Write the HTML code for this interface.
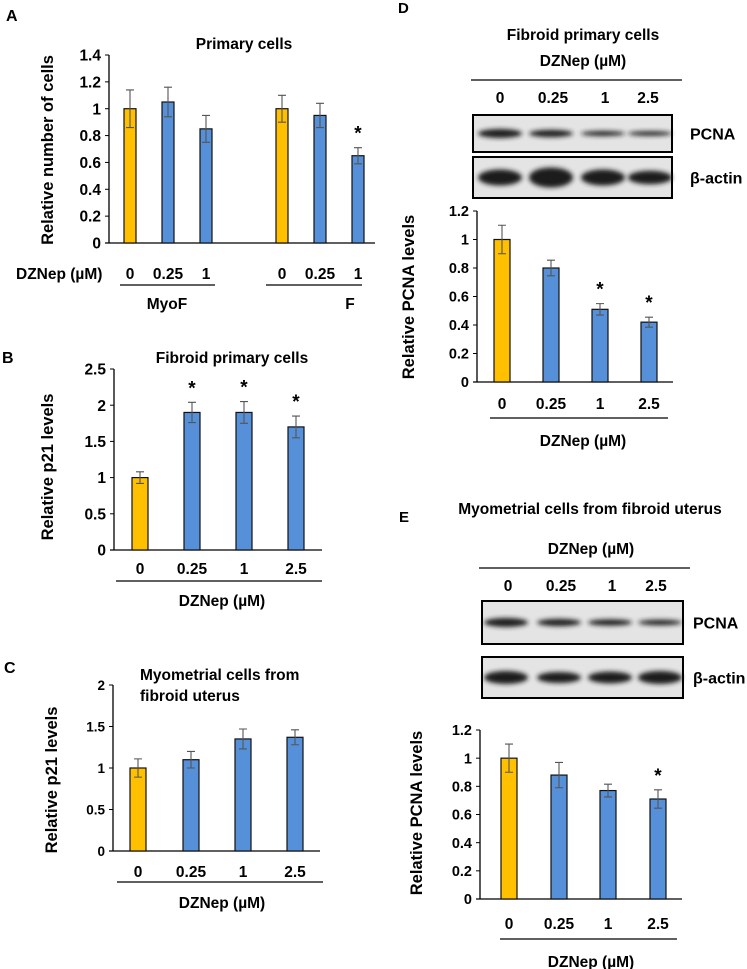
<!DOCTYPE html>
<html><head><meta charset="utf-8">
<style>
html,body{margin:0;padding:0;background:#fff;}
svg{display:block;font-family:"Liberation Sans",Arial,sans-serif;font-weight:bold;}
</style></head>
<body>
<svg id="fig" width="747" height="969" viewBox="0 0 747 969" xmlns="http://www.w3.org/2000/svg">
<defs>
<filter id="blur" x="-20%" y="-100%" width="140%" height="300%"><feGaussianBlur stdDeviation="2.4"/></filter>
</defs>
<g id="static" font-size="15.5">
<text x="6" y="21" font-size="16">A</text>
<text x="244" y="49" text-anchor="middle">Primary cells</text>
<text x="16" y="279">DZNep (µM)</text>
<line x1="120" y1="285" x2="215" y2="285" stroke="#000" stroke-width="1.3"/>
<line x1="266" y1="285" x2="362" y2="285" stroke="#000" stroke-width="1.3"/>
<text x="167" y="309" text-anchor="middle">MyoF</text>
<text x="350" y="309" text-anchor="middle">F</text>
<text x="2" y="363" font-size="16">B</text>
<text x="232" y="363" text-anchor="middle">Fibroid primary cells</text>
<line x1="116" y1="581" x2="322" y2="581" stroke="#000" stroke-width="1.3"/>
<text x="222" y="606" text-anchor="middle">DZNep (µM)</text>
<text x="4" y="673" font-size="16">C</text>
<text x="140" y="680">Myometrial cells from</text>
<text x="140" y="701">fibroid uterus</text>
<line x1="117" y1="882" x2="323" y2="882" stroke="#000" stroke-width="1.3"/>
<text x="222" y="908" text-anchor="middle">DZNep (µM)</text>
<text x="398" y="13" font-size="15">D</text>
<text x="583" y="40" text-anchor="middle">Fibroid primary cells</text>
<text x="583" y="66" text-anchor="middle">DZNep (µM)</text>
<line x1="471" y1="80" x2="682" y2="80" stroke="#000" stroke-width="1.3"/>
<line x1="490" y1="418" x2="668" y2="418" stroke="#000" stroke-width="1.3"/>
<text x="583" y="446" text-anchor="middle">DZNep (µM)</text>
<text x="399" y="522" font-size="15">E</text>
<text x="590" y="514" text-anchor="middle">Myometrial cells from fibroid uterus</text>
<text x="591" y="554" text-anchor="middle">DZNep (µM)</text>
<line x1="479" y1="568" x2="690" y2="568" stroke="#000" stroke-width="1.3"/>
<line x1="500" y1="939" x2="677" y2="939" stroke="#000" stroke-width="1.3"/>
<text x="591" y="967" text-anchor="middle">DZNep (µM)</text>
</g>
<g id="dyn"></g>
</svg>
<script>
// Panel A data
const aCategories = ["0","0.25","1","0","0.25","1"];
const aValues = [1.0, 1.05, 0.85, 1.0, 0.95, 0.65];
const aErrors = [0.14, 0.11, 0.10, 0.10, 0.09, 0.06];
const aStars = [false,false,false,false,false,true];
const aTicks = [0,0.2,0.4,0.6,0.8,1,1.2,1.4];
// Panel B data
const bCategories = ["0","0.25","1","2.5"];
const bValues = [1.0, 1.9, 1.9, 1.7];
const bErrors = [0.08, 0.14, 0.15, 0.15];
const bStars = [false,true,true,true];
const bTicks = [0,0.5,1,1.5,2,2.5];
// Panel C data
const cCategories = ["0","0.25","1","2.5"];
const cValues = [1.0, 1.1, 1.35, 1.37];
const cErrors = [0.11, 0.10, 0.12, 0.09];
const cStars = [false,false,false,false];
const cTicks = [0,0.5,1,1.5,2];
// Panel D data
const dCategories = ["0","0.25","1","2.5"];
const dValues = [1.0, 0.80, 0.51, 0.42];
const dErrors = [0.10, 0.055, 0.04, 0.035];
const dStars = [false,false,true,true];
const dTicks = [0,0.2,0.4,0.6,0.8,1,1.2];
// Panel E data
const eCategories = ["0","0.25","1","2.5"];
const eValues = [1.0, 0.88, 0.77, 0.71];
const eErrors = [0.10, 0.09, 0.045, 0.065];
const eStars = [false,false,false,true];
const eTicks = [0,0.2,0.4,0.6,0.8,1,1.2];
// Blot band intensities (relative thickness)
const dPcnaBands = [1.0, 0.8, 0.55, 0.5];
const dActinBands = [1.0, 1.25, 1.0, 0.85];
const ePcnaBands = [1.0, 0.8, 0.7, 0.6];
const eActinBands = [1.0, 0.85, 0.9, 1.0];

const NS = "http://www.w3.org/2000/svg";
const root = document.getElementById("dyn");
function mk(tag, attrs, parent){
  const e = document.createElementNS(NS, tag);
  for (const k in attrs) e.setAttribute(k, attrs[k]);
  (parent||root).appendChild(e);
  return e;
}

function drawChart(p, cats, vals, errs, stars, ticks){
  const g = mk("g", {});
  
  
  const yMax = ticks[ticks.length-1];
  const y = v => p.y0 - (v / yMax) * (p.y0 - p.yTop);
  const ya = mk("line", {x1:p.x0, y1:p.yTop, x2:p.x0, y2:p.y0, stroke:"#000", "stroke-width":1.3}, g);
  
  
  const xa = mk("line", {x1:p.x0-4, y1:p.y0, x2:p.x1, y2:p.y0, stroke:"#000", "stroke-width":1.3}, g);
  
  
  ticks.forEach(t => {
    const tm = mk("line", {x1:p.x0-4, y1:y(t), x2:p.x0, y2:y(t), stroke:"#000", "stroke-width":1}, g);
    
    
    const tl = mk("text", {x:p.x0-8, y:y(t)+p.tickFs*0.36, "font-size":p.tickFs, "text-anchor":"end"}, g);
    tl.textContent = String(t);
    
    
  });
  const yl = mk("text", {x:0, y:0, "font-size":p.ylFs, "text-anchor":"middle", transform:`translate(${p.ylX},${p.ylY}) rotate(-90)`}, g);
  yl.textContent = p.yLabel;
  
  
  vals.forEach((v,i) => {
    const cx = p.centers[i];
    const bar = mk("rect", {x:cx-p.bw/2, y:y(v), width:p.bw, height:p.y0-y(v), fill: i===0||(p.yellow&&p.yellow.includes(i)) ? "#FFC000" : "#5590D9", stroke:"#111", "stroke-width":1.2}, g);
    
    
    const eh = y(v+errs[i]), el = y(v-errs[i]);
    const eb = mk("path", {d:`M${cx},${eh}V${el}M${cx-4},${eh}H${cx+4}M${cx-4},${el}H${cx+4}`, stroke:"#555", "stroke-width":1.1, fill:"none"}, g);
    
    
    if (stars[i]) {
      const s = mk("text", {x:cx, y:eh-8, "font-size":19, "text-anchor":"middle"}, g);
      s.textContent = "*";
      
      
    }
    const cl = mk("text", {x:cx, y:p.catY, "font-size":p.catFs, "text-anchor":"middle"}, g);
    cl.textContent = cats[i];
    
    
  });
}

drawChart({name:"panel-a", x0:109, x1:375, yTop:55, y0:243, centers:[130,168,206,282,320,358], bw:12, yellow:[3], tickFs:15.5, catFs:15.5, catY:279, yLabel:"Relative number of cells", ylFs:16.5, ylX:53, ylY:150}, aCategories, aValues, aErrors, aStars, aTicks);
drawChart({name:"panel-b", x0:114, x1:322, yTop:369, y0:550, centers:[140,192,244,296], bw:16, tickFs:15.5, catFs:15.5, catY:574, yLabel:"Relative  p21 levels", ylFs:16.5, ylX:53, ylY:467}, bCategories, bValues, bErrors, bStars, bTicks);
drawChart({name:"panel-c", x0:113, x1:320, yTop:685, y0:851, centers:[138,191,243,295], bw:16, tickFs:13.5, catFs:15.5, catY:877, yLabel:"Relative  p21 levels", ylFs:16.5, ylX:57, ylY:780}, cCategories, cValues, cErrors, cStars, cTicks);
drawChart({name:"panel-d", x0:477, x1:673, yTop:211, y0:382, centers:[502,551,600,649], bw:16, tickFs:14.5, catFs:15.5, catY:409, yLabel:"Relative PCNA levels", ylFs:16.5, ylX:414, ylY:297}, dCategories, dValues, dErrors, dStars, dTicks);
drawChart({name:"panel-e", x0:480, x1:682, yTop:730, y0:899, centers:[509,559,608,658], bw:16, tickFs:14.5, catFs:15.5, catY:929, yLabel:"Relative PCNA levels", ylFs:16.5, ylX:422, ylY:813}, eCategories, eValues, eErrors, eStars, eTicks);

function drawBlot(name, x, yTop, w, h, lanes, bands, baseH, label, labelX){
  const g = mk("g", {});
  
  
  const bg = mk("rect", {x:x, y:yTop, width:w, height:h, fill:"#e4e4e4", stroke:"#000", "stroke-width":2}, g);
  
  
  bands.forEach((b,i) => {
    const band = mk("ellipse", {cx:lanes[i], cy:yTop+h/2, rx:22, ry:baseH*b, fill:"#1a1a1a", filter:"url(#blur)"}, g);
    
    
  });
  const t = mk("text", {x:labelX, y:yTop+h/2+6, "font-size":16}, g);
  t.textContent = label;
  
  
}
function laneLabels(name, xs, yy, cats){
  cats.forEach((c,i)=>{
    const t = mk("text", {x:xs[i], y:yy, "font-size":15.5, "text-anchor":"middle"});
    t.textContent = c;
    
    
  });
}
laneLabels("panel-d-blot", [500,553,605,648], 103, dCategories);
drawBlot("panel-d-pcna-blot", 473, 115, 199, 37, [500,551,603,650], dPcnaBands, 4.5, "PCNA", 690);
drawBlot("panel-d-actin-blot", 473, 157, 199, 41, [500,551,603,650], dActinBands, 8, "β-actin", 690);
laneLabels("panel-e-blot", [508,561,612,656], 591, eCategories);
drawBlot("panel-e-pcna-blot", 482, 601, 201, 43, [506,559,610,660], ePcnaBands, 4.5, "PCNA", 693);
drawBlot("panel-e-actin-blot", 482, 657, 201, 41, [506,559,610,660], eActinBands, 6.5, "β-actin", 693);
</script>
</body></html>
